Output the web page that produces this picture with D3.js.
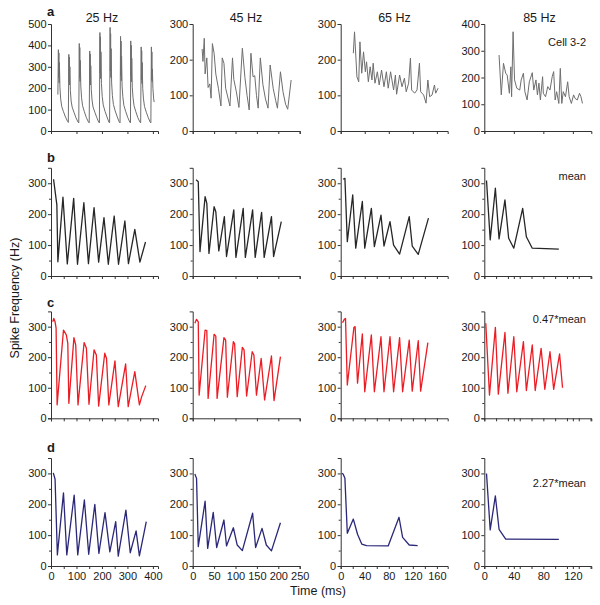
<!DOCTYPE html>
<html lang="en">
<head>
<meta charset="UTF-8">
<script src="https://d3js.org/d3.v7.min.js" charset="utf-8"></script>
<title>Spike frequency</title>
<style>
  body { margin: 0; background: #fff; }
  svg text { font-family: "Liberation Sans", Arial, sans-serif; fill: #1a1a1a; }
  .axis path, .axis line { stroke: #333; stroke-width: 1; }
  .axis text { font-size: 11px; }
</style>
</head>
<body>
<div id="chart"></div>
<script>
// column / row labels
const freqs = ["25 Hz", "45 Hz", "65 Hz", "85 Hz"];
const rowLetters = ["a", "b", "c", "d"];
const rowNotes = ["Cell 3-2", "mean", "0.47*mean", "2.27*mean"];

// axes per column
const xMax = [420, 250, 178, 145];
const xLabelTicks = [[0, 100, 200, 300, 400], [0, 50, 100, 150, 200, 250], [0, 40, 80, 120, 160], [0, 40, 80, 120]];
const xMinorStep = [50, 50, 20, 16];
const yMaxA = [500, 300, 300, 400];
const yTicksA = [[0, 100, 200, 300, 400, 500], [0, 100, 200, 300], [0, 100, 200, 300], [0, 100, 200, 300, 400]];
const yMaxModel = 350;
const yTicksModel = [0, 100, 200, 300];
const yMinorModel = [50, 150, 250];

// row a : recorded cell 3-2 (time ms, spike frequency Hz)
const a25 = [[27,170],[29,380],[30,250],[31,365],[32,225],[33,320],[35,205],[38,150],[42,115],[49,90],[57,65],[65,45],[68,40],
  [70,358],[71,230],[72,345],[73,215],[74,300],[76,190],[79,140],[83,112],[90,88],[98,62],[106,42],[109,38],
  [111,409],[112,250],[113,390],[114,232],[115,330],[117,210],[120,155],[124,118],[131,90],[139,62],[147,42],[150,38],
  [152,374],[153,235],[154,360],[155,215],[156,305],[158,195],[161,145],[165,112],[172,88],[180,62],[187,42],[190,38],
  [192,460],[193,270],[194,440],[195,245],[196,370],[198,222],[201,162],[205,122],[212,92],[220,65],[227,42],[230,38],
  [232,484],[233,280],[234,455],[235,250],[236,385],[238,225],[241,165],[245,124],[252,94],[260,66],[268,42],[271,38],
  [273,442],[274,260],[275,420],[276,235],[277,350],[279,210],[282,160],[286,120],[293,92],[301,64],[309,42],[312,38],
  [313,421],[314,255],[315,400],[316,230],[317,340],[319,205],[322,155],[326,118],[333,90],[341,62],[349,42],[352,38],
  [354,393],[355,240],[356,375],[357,222],[358,320],[360,200],[363,150],[367,115],[374,88],[382,62],[389,42],[392,38],
  [394,393],[395,240],[396,370],[397,230],[398,290],[400,200],[403,150],[405,135]];
const a45 = [[22,230],[24,195],[27,260],[29,160],[33,205],[36,122],[40,132],[43,92],[46,245],[50,218],[54,160],[60,120],[66,70],
  [69,205],[73,190],[77,120],[83,90],[87,70],[93,205],[96,145],[102,110],[108,66],[116,232],[122,150],[127,100],[132,59],
  [136,218],[141,152],[145,155],[149,100],[153,64],[158,205],[164,130],[170,90],[176,64],[181,185],[188,120],[194,85],[198,64],
  [205,166],[211,110],[217,75],[222,61],[230,143]];
const a65 = [[21,218],[23,278],[27,152],[30,138],[32,250],[35,162],[38,222],[41,166],[43,194],[46,138],[49,180],[52,143],
  [54,190],[57,134],[61,166],[64,129],[68,171],[72,124],[76,166],[79,120],[83,166],[88,115],[91,157],[93,103],[98,157],
  [102,124],[106,148],[109,110],[113,134],[116,204],[118,115],[123,106],[127,115],[131,190],[133,110],[138,101],[142,78],
  [145,143],[148,96],[152,101],[156,129],[158,106],[162,120]];
const a85 = [[20,284],[23,135],[26,253],[29,216],[31,209],[34,141],[36,240],[37,128],[39,371],[41,191],[44,160],[48,153],
  [50,191],[53,216],[55,147],[58,116],[61,184],[65,218],[67,153],[70,191],[72,135],[74,179],[76,116],[79,203],[80,141],
  [83,128],[86,166],[89,153],[92,203],[94,222],[96,116],[98,147],[101,103],[103,234],[105,103],[107,147],[110,128],
  [113,184],[115,128],[118,103],[121,135],[123,122],[126,116],[129,141],[131,128],[133,103]];

// row b : model, mean parameters
const b25 = [[10,313],[23,230],[27,46],[47,255],[64,39],[89,251],[104,38],[129,237],[147,40],[169,221],[187,45],
  [208,189],[225,38],[248,194],[265,38],[290,178],[304,40],[329,151],[349,45],[371,110]];
const b45 = [[8,311],[13,305],[17,79],[29,257],[33,235],[38,73],[50,224],[54,208],[61,81],[74,192],[79,63],[96,214],
  [101,60],[118,219],[123,60],[140,214],[146,60],[161,206],[167,60],[184,192],[189,63],[207,176]];
const b65 = [[4,313],[7,316],[11,111],[20,262],[25,90],[36,241],[40,90],[51,219],[56,95],[67,197],[72,97],[82,176],
  [88,100],[98,71],[114,192],[119,97],[129,70],[146,187]];
const b85 = [[3,309],[8,117],[15,284],[20,120],[28,246],[33,122],[40,90],[52,219],[57,127],[65,90],[101,87]];

// row c : 0.47*mean
const c25 = [[7,316],[11,327],[16,316],[20,295],[24,44],[49,289],[60,273],[66,245],[70,49],[90,264],[97,240],[106,44],
  [130,248],[139,229],[149,46],[169,224],[178,207],[187,40],[211,213],[218,196],[227,44],[251,188],[264,38],[293,178],
  [303,38],[329,153],[347,44],[356,71],[372,107]];
const c45 = [[5,311],[9,324],[13,316],[15,76],[29,289],[33,287],[36,65],[50,275],[54,269],[57,65],[73,264],[77,256],
  [81,69],[95,251],[98,243],[104,71],[116,232],[120,224],[126,73],[139,218],[143,207],[149,76],[160,196],[168,60],
  [184,204],[190,58],[205,202]];
const c65 = [[3,313],[6,324],[8,327],[11,109],[22,298],[24,300],[28,115],[36,276],[40,87],[51,273],[56,87],[67,267],
  [72,87],[82,267],[88,87],[98,264],[103,87],[114,256],[119,89],[129,254],[133,89],[145,248]];
const c85 = [[2,311],[7,76],[15,298],[19,79],[28,281],[32,82],[40,267],[44,87],[53,251],[57,91],[65,240],[69,91],
  [77,229],[82,95],[89,218],[94,95],[102,211],[106,100]];

// row d : 2.27*mean
const d25 = [[9,302],[16,281],[25,36],[49,237],[62,36],[91,230],[105,36],[131,214],[148,38],[172,200],[188,41],
  [212,173],[231,46],[254,144],[264,32],[294,181],[311,43],[334,114],[347,33],[374,144]];
const d45 = [[5,298],[9,284],[13,63],[29,210],[35,57],[48,174],[56,60],[73,149],[79,65],[95,124],[104,68],[116,50],
  [140,171],[147,60],[162,122],[172,68],[184,49],[205,140]];
const d65 = [[2,300],[4,298],[7,284],[11,106],[21,152],[28,103],[35,71],[43,66],[79,65],[97,158],[103,93],[114,68],[128,66]];
const d85 = [[3,300],[8,117],[15,227],[20,119],[29,87],[101,86]];

const series = [[a25, a45, a65, a85], [b25, b45, b65, b85], [c25, c45, c65, c85], [d25, d45, d65, d85]];

// layout
const width = 600, height = 605;
const colX0 = [51, 192.7, 340.7, 484.3];
const plotW = 107;
const rowY0 = [131, 276, 418.3, 566];
const rowTop = [24, 167.8, 311.4, 458];
const rowColor = ["#6e6e6e", "#262626", "#ec1c24", "#2b2878"];
const rowWidth = [1, 1.3, 1.3, 1.3];

const svg = d3.select("#chart").append("svg")
  .attr("width", width)
  .attr("height", height);

for (let r = 0; r < 4; r++) {
  for (let c = 0; c < 4; c++) {
    const x = d3.scaleLinear().domain([0, xMax[c]]).range([colX0[c], colX0[c] + plotW]);
    const yMax = r === 0 ? yMaxA[c] : yMaxModel;
    const y = d3.scaleLinear().domain([0, yMax]).range([rowY0[r], rowTop[r]]);
    const g = svg.append("g");

    // x axis
    const xAxis = d3.axisBottom(x).tickValues(xLabelTicks[c]).tickSizeOuter(0).tickSize(3).tickPadding(3);
    if (r < 3) xAxis.tickFormat("");
    g.append("g").attr("class", "axis").attr("transform", "translate(0," + rowY0[r] + ")").call(xAxis);
    if (r > 0) {
      const minor = d3.range(0, xMax[c] + 0.01, xMinorStep[c]).filter(v => xLabelTicks[c].indexOf(v) < 0);
      g.append("g").attr("class", "axis").attr("transform", "translate(0," + rowY0[r] + ")")
        .call(d3.axisBottom(x).tickValues(minor).tickSize(3).tickFormat(""))
        .select(".domain").remove();
    }

    // y axis
    const yAxis = d3.axisLeft(y).tickValues(r === 0 ? yTicksA[c] : yTicksModel).tickSizeOuter(0).tickSize(3).tickPadding(1.5);
    g.append("g").attr("class", "axis").attr("transform", "translate(" + colX0[c] + ",0)").call(yAxis);
    if (r > 0) {
      g.append("g").attr("class", "axis").attr("transform", "translate(" + colX0[c] + ",0)")
        .call(d3.axisLeft(y).tickValues(yMinorModel).tickSize(2).tickFormat(""))
        .select(".domain").remove();
    }

    // trace
    const line = d3.line().x(d => x(d[0])).y(d => y(d[1]));
    g.append("path")
      .datum(series[r][c])
      .attr("d", line)
      .attr("fill", "none")
      .attr("stroke", rowColor[r])
      .attr("stroke-width", rowWidth[r])
      .attr("stroke-linejoin", "round");
  }
}

// column titles
const titleX = [102, 246, 394.5, 539.5];
svg.selectAll(".title").data(freqs).enter().append("text")
  .attr("x", (d, i) => titleX[i]).attr("y", 22)
  .attr("text-anchor", "middle").style("font-size", "12.5px")
  .text(d => d);

// panel letters
const letterY = [16, 162, 307, 452];
svg.selectAll(".letter").data(rowLetters).enter().append("text")
  .attr("x", 47).attr("y", (d, i) => letterY[i])
  .style("font-size", "13px").style("font-weight", "bold")
  .text(d => d);

// notes on the right
const noteY = [46, 180, 323, 487];
svg.selectAll(".note").data(rowNotes).enter().append("text")
  .attr("x", 586).attr("y", (d, i) => noteY[i])
  .attr("text-anchor", "end").style("font-size", "11px")
  .text(d => d);

// axis titles
svg.append("text")
  .attr("x", 318).attr("y", 595)
  .attr("text-anchor", "middle").style("font-size", "12.5px")
  .text("Time (ms)");
svg.append("text")
  .attr("transform", "translate(19,298) rotate(-90)")
  .attr("text-anchor", "middle").style("font-size", "12.5px")
  .text("Spike Frequency (Hz)");
</script>
</body>
</html>
